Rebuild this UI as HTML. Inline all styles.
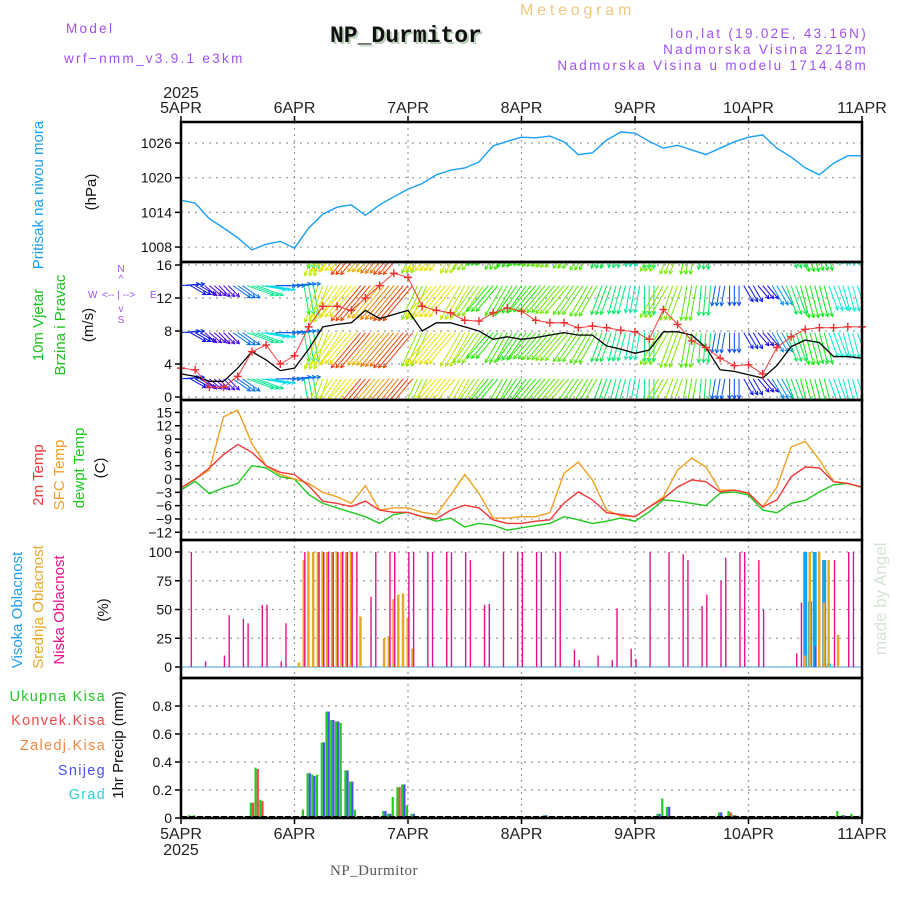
<!DOCTYPE html>
<html><head><meta charset="utf-8"><style>
body{margin:0;background:#fff}
svg{display:block;font-family:"Liberation Sans",sans-serif}
</style></head><body>
<svg id="c" width="900" height="900" viewBox="0 0 900 900">
<defs>
<clipPath id="cp2"><rect x="181" y="263" width="681" height="136"/></clipPath>
</defs>
<g font-size="13.5" fill="#a050f0" letter-spacing="2.3">
<text x="66" y="33">Model</text>
<text x="64" y="63">wrf−nmm_v3.9.1 e3km</text>
<text x="868" y="38" text-anchor="end">lon,lat (19.02E, 43.16N)</text>
<text x="868" y="54" text-anchor="end">Nadmorska Visina 2212m</text>
<text x="868" y="70" text-anchor="end">Nadmorska Visina u modelu 1714.48m</text>
</g>
<text x="520" y="15" font-size="16" fill="#f0c880" letter-spacing="3.8">Meteogram</text>
<text x="332" y="44" font-family="Liberation Mono,monospace" font-weight="bold" font-size="23" fill="#b8d0b8">NP_Durmitor</text>
<text x="330" y="42" font-family="Liberation Mono,monospace" font-weight="bold" font-size="23" fill="#111">NP_Durmitor</text>
<text x="330" y="875" font-family="Liberation Serif,serif" font-size="15" fill="#555" letter-spacing="0.5">NP_Durmitor</text>
<text transform="translate(886,655) rotate(-90)" font-size="17" fill="#d8e4d8">made by Angel</text>

<g id="grid"></g>
<g id="marks"></g>
<g id="frames"></g>
<g id="labels" font-size="14"></g>
</svg>
<script>
// ---- data ----
const days = ["5APR","6APR","7APR","8APR","9APR","10APR","11APR"];
const pressure = [1016.1,1015.6,1012.9,1011.3,1009.6,1007.5,1008.5,1009,1007.8,1011.3,1013.7,1014.9,1015.3,1013.5,1015.3,1016.7,1018,1019,1020.5,1021.3,1021.7,1022.7,1025.5,1026.3,1027,1026.9,1027.2,1026.2,1024,1024.3,1026.5,1027.9,1027.7,1026.3,1025.1,1025.6,1024.8,1024,1025.1,1026.2,1027,1027.4,1025.1,1023.6,1021.7,1020.5,1022.5,1023.8,1023.8];
const windSpeed = [2.8,2.5,1.9,1.9,3.5,5.5,4.5,3.2,3.5,5.8,8.5,8.8,9,10.5,9.5,10,10.5,8,9,9,8.5,8,7,7.3,7,7.2,7.5,7.8,7.5,7.5,6.2,5.8,5.3,5.7,7.9,7.9,7.5,6,3.3,3.1,2.7,2.3,3.8,6.1,6.9,6.6,4.9,4.9,4.7];
const windGust = [3.5,3.3,1.2,1.2,2.5,5.5,6.3,4,5,8.5,11,11,10.5,12,13.5,15,14.5,11,10.5,10.2,9.3,9.2,10.2,10.8,10.4,9.3,9,9,8.4,8.6,8.4,8.1,7.9,7,10.6,8.8,6.8,6,4.7,3.8,3.9,2.8,6,7.3,8.2,8.4,8.4,8.5,8.5];
const windDir = [265,300,310,315,305,290,280,270,265,350,20,35,40,40,40,40,40,25,40,40,30,35,40,30,35,40,40,40,35,30,20,15,10,0,30,20,10,5,10,0,330,320,330,340,345,345,340,345,340];
const temp2m = [-2,0,2.5,5.5,7.8,6,3,1.5,1,-1.5,-5,-5.5,-6.2,-5,-7,-7.5,-7.5,-8.5,-9,-7,-5.9,-6.5,-9.2,-10,-10,-9.5,-9.2,-5.4,-2.9,-4.7,-7.6,-8,-8.5,-6.3,-4.4,-1.8,-0.2,-0.6,-2.9,-2.5,-3.2,-6.3,-4.7,0.5,2.7,2.5,-0.6,-1,-1.8];
const tempSfc = [-2,0,2,14,15.5,8,3,1,0,-1,-3,-4,-5.5,-1.5,-7,-6.5,-6.5,-7.5,-8,-3.6,1,-3.2,-8.8,-8.8,-8.5,-8.5,-7.6,1.3,3.8,-0.2,-7,-8.3,-8.5,-6.3,-4,2,4.7,2.7,-2.5,-2.5,-3.2,-6.3,-1.8,7.2,8.5,4.3,-0.6,-1,-1.8];
const dewpt = [-2.5,-0.5,-3.3,-2,-1,3,2.5,0.5,0,-3.5,-5.5,-6.5,-7.5,-8.5,-10,-8,-7.5,-8.5,-9.5,-8.8,-10.8,-10,-10.4,-11.5,-11,-10.5,-10,-8.5,-9.2,-10,-9.5,-8.8,-9.5,-7.4,-4.7,-5,-5.5,-6,-3.2,-2.9,-3.6,-7,-7.6,-5.5,-4.8,-2.9,-1.3,-1,-1.9];
const lowHours = [2,5,9,10,13,14,17,18,21,22,26,29,30,31,32,33,34,35,36,37,40,41,44,45,48,49,52,53,56,57,60,61,64,65,68,71,72,75,76,79,80,83,84,88,91,92,95,96,99,103,106,107,110,111,114,115,118,119,122,123,130,131,134,138,141,142];
const lowVals = [100,5,10,45,42,38,54,54,5,38,100,100,100,100,100,100,100,100,100,100,61,100,100,100,100,100,100,100,100,100,100,93,54,55,100,100,100,100,100,100,100,15,6,10,6,51,16,7,100,100,98,93,53,63,75,95,100,100,93,50,12,56,18,93,100,100];
const midHours = [25,26,27,28,29,30,31,32,33,34,35,36,38,43,44,45,46,47,48,49,132,133,135,136,137,139];
const midVals = [4,93,100,100,100,100,100,100,100,100,100,100,44,25,27,59,63,64,43,16,10,100,100,56,93,28];
const highHours = [132,133,134,136,137];
const highVals = [100,57,100,93,3];
const precipHours = [2,3,15,16,17,19,26,27,28,29,30,31,32,33,34,35,36,37,41,43,44,45,46,47,48,49,75,76,77,101,102,103,114,116,117,139,140,142,143,144];
const precipTotal = [0.02,0.02,0.11,0.36,0.13,0.01,0.06,0.32,0.31,0.31,0.54,0.76,0.70,0.69,0.68,0.34,0.26,0.06,0.01,0.05,0.03,0.15,0.22,0.24,0.09,0.03,0.01,0.01,0.02,0.03,0.14,0.08,0.04,0.05,0.02,0.05,0.02,0.03,0.01,0.02];
const precipConv = [0,0,0.11,0.35,0.12,0,0,0,0,0,0,0,0,0,0,0,0,0,0,0.05,0.03,0,0.22,0.2,0,0,0,0,0,0,0,0,0,0.04,0.02,0,0,0,0,0];
const precipSnow = [0,0,0,0,0,0,0,0.32,0.30,0,0.54,0.76,0.70,0.69,0,0.34,0.26,0,0,0.05,0.03,0,0,0.24,0,0.03,0,0,0.02,0.03,0,0.08,0.04,0,0,0,0.02,0,0.01,0];
const p1Ticks = [1008,1014,1020,1026];
const p2Ticks = [0,4,8,12,16];
const p3Ticks = [-12,-9,-6,-3,0,3,6,9,12,15];
const p4Ticks = [0,25,50,75,100];
const p5Ticks = [0,0.2,0.4,0.6,0.8];

// ---- scales ----
const X0=181, X1=862;
const xh = h => X0 + h*(X1-X0)/144;
const y1 = v => 143 + (1026-v)*5.78;
const y2 = v => 397 - v*8.25;
const y3 = v => 479 - v*4.44;
const y4 = v => 667 - v*1.15;
const y5 = v => 818 - v*140;
const NS="http://www.w3.org/2000/svg";
function mk(tag, attrs, parent){const e=document.createElementNS(NS,tag);for(const k in attrs)e.setAttribute(k,attrs[k]);parent.appendChild(e);return e;}
const grid=document.getElementById('grid'), marks=document.getElementById('marks'), frames=document.getElementById('frames'), labels=document.getElementById('labels');
const panels=[[122,262,y1,p1Ticks,v=>v],[262,400,y2,p2Ticks,v=>v],[400,540,y3,p3Ticks,v=>v<0?"−"+(-v):v],[540,678,y4,p4Ticks,v=>v],[678,818,y5,p5Ticks,v=>v===0?"0":v.toFixed(1)]];
panels.forEach((p,pi)=>{
  const [t,b,ys,ticks,fmt]=p;
  ticks.forEach(v=>{
    const y=ys(v);
    const g=mk('line',{x1:X0,x2:X1,y1:y,y2:y,stroke:'#999','stroke-width':1.2,'stroke-dasharray':'2,5'},grid);
    
    
    mk('line',{x1:X0-6,x2:X0,y1:y,y2:y,stroke:'#000','stroke-width':1.5},frames);
    const tx=mk('text',{x:X0-9,y:y+5,'text-anchor':'end','font-size':14,fill:'#111'},labels);
    tx.textContent=fmt(v);
    
    
  });
  for(let d=1;d<6;d++){
    const g=mk('line',{x1:xh(d*24),x2:xh(d*24),y1:t,y2:b,stroke:'#999','stroke-width':1.2,'stroke-dasharray':'2,4'},grid);
    
    
  }
  const r=mk('rect',{x:X0,y:t,width:X1-X0,height:b-t,fill:'none',stroke:'#000','stroke-width':2.5},frames);
  
  
});
days.forEach((d,i)=>{
  const x=xh(i*24);
  mk('line',{x1:x,x2:x,y1:116,y2:122,stroke:'#000','stroke-width':1.5},frames);
  mk('line',{x1:x,x2:x,y1:818,y2:824,stroke:'#000','stroke-width':1.5},frames);
  const t1=mk('text',{x:x,y:113,'text-anchor':'middle','font-size':16,fill:'#222'},labels);
  t1.textContent=d;
  
  
  const t2=mk('text',{x:x,y:839,'text-anchor':'middle','font-size':16,fill:'#222'},labels);
  t2.textContent=d;
  
  
});
const yr1=mk('text',{x:181,y:98,'text-anchor':'middle','font-size':16,fill:'#222'},labels);yr1.textContent="2025";


const yr2=mk('text',{x:181,y:855,'text-anchor':'middle','font-size':16,fill:'#222'},labels);yr2.textContent="2025";



function line(arr, ys, color, name, w){
  const pts=arr.map((v,i)=>xh(i*3).toFixed(1)+","+ys(v).toFixed(1)).join(" ");
  const l=mk('polyline',{points:pts,fill:'none',stroke:color,'stroke-width':w||1.3},marks);
  
  
  return l;
}
// panel 1
line(pressure,y1,'#1aa0f5','pressure-line',1.4);
// panel 2 wind arrows
const wg=mk('g',{'clip-path':'url(#cp2)'},marks);


[2.2,7.8,13.5,19.1].forEach(base=>{
  for(let h=0;h<=144;h++){
    const i=Math.min(48,Math.round(h/3));
    const s=windSpeed[i], d=windDir[i]*Math.PI/180;
    const L=3.5*s+9, dx=-Math.sin(d), dy=Math.cos(d);
    const x0=xh(h), y0=y2(base), x1=x0+dx*L, y1e=y0+dy*L;
    const col='hsl('+Math.max(10,Math.min(285,310-28*s))+',95%,47%)';
    const a=Math.atan2(dy,dx);
    const hx1=x1-4*Math.cos(a-0.5), hy1=y1e-4*Math.sin(a-0.5), hx2=x1-4*Math.cos(a+0.5), hy2=y1e-4*Math.sin(a+0.5);
    const p=mk('path',{d:`M${x0},${y0}L${x1},${y1e}M${hx1},${hy1}L${x1},${y1e}L${hx2},${hy2}`,stroke:col,'stroke-width':1,fill:'none'},wg);
    
    
  }
});
line(windSpeed,y2,'#000','wind-speed-line',1.3);
line(windGust,y2,'#f04040','wind-gust-line',1);
windGust.forEach((v,i)=>{
  const x=xh(i*3), y=y2(v);
  const c=mk('path',{d:`M${x-4},${y}h8M${x},${y-4}v8`,stroke:'#f03030','stroke-width':1.4},marks);
  
  
});
// panel 3
line(dewpt,y3,'#20c820','dewpoint-line',1.4);
line(tempSfc,y3,'#f0a020','sfc-temp-line',1.4);
line(temp2m,y3,'#f03838','temp-2m-line',1.4);
// panel 4
mk('line',{x1:X0,x2:X1,y1:667,y2:667,stroke:'#6ab8e8','stroke-width':1.2},marks);
function bars(hours,vals,ys,off,w,color,name,base){
  hours.forEach((h,i)=>{
    if(!vals[i])return;
    const y=ys(vals[i]);
    const r=mk('rect',{x:xh(h)+off,y:y,width:w,height:base-y,fill:color},marks);
    
    
  });
}
bars(highHours,highVals,y4,-2,4,'#12a4f0','high-cloud-bar',667);
bars(midHours,midVals,y4,-1.5,2.5,'#e8a828','mid-cloud-bar',667);
bars(lowHours,lowVals,y4,0.2,1.4,'#e8108a','low-cloud-bar',667);
// panel 5
bars(precipHours,precipTotal,y5,-2.2,2.2,'#22cc22','precip-total-bar',818);
bars(precipHours,precipConv,y5,0,2.2,'#f04848','precip-conv-bar',818);
bars(precipHours,precipSnow,y5,0,2.2,'#4a50f0','precip-snow-bar',818);
mk('line',{x1:X0,x2:X1,y1:817,y2:817,stroke:'#000','stroke-width':2,'stroke-dasharray':'6,2'},marks);
</script>
<svg width="900" height="900" style="position:absolute;left:0;top:0;pointer-events:none" font-family="Liberation Sans,sans-serif">
<g font-size="15">
<text transform="translate(43,195) rotate(-90)" text-anchor="middle" fill="#1aa0f5">Pritisak na nivou mora</text>
<text transform="translate(96,192) rotate(-90)" text-anchor="middle" fill="#111">(hPa)</text>
<text transform="translate(43,325) rotate(-90)" text-anchor="middle" fill="#20c020">10m Vjetar</text>
<text transform="translate(65,325) rotate(-90)" text-anchor="middle" fill="#20c020">Brzina i Pravac</text>
<text transform="translate(93,325) rotate(-90)" text-anchor="middle" fill="#111">(m/s)</text>
<text transform="translate(43,475) rotate(-90)" text-anchor="middle" fill="#f03838">2m Temp</text>
<text transform="translate(64,475) rotate(-90)" text-anchor="middle" fill="#f0a020">SFC Temp</text>
<text transform="translate(84,468) rotate(-90)" text-anchor="middle" fill="#20c820">dewpt Temp</text>
<text transform="translate(105,468) rotate(-90)" text-anchor="middle" fill="#111">(C)</text>
<text transform="translate(22,610) rotate(-90)" text-anchor="middle" fill="#20a0f0">Visoka Oblacnost</text>
<text transform="translate(43,607) rotate(-90)" text-anchor="middle" fill="#e8a828">Srednja Oblacnost</text>
<text transform="translate(64,610) rotate(-90)" text-anchor="middle" fill="#f0108a">Niska Oblacnost</text>
<text transform="translate(108,610) rotate(-90)" text-anchor="middle" fill="#111">(%)</text>
<text transform="translate(123,745) rotate(-90)" text-anchor="middle" fill="#111">1hr Precip (mm)</text>
</g>
<g font-size="14.5" text-anchor="end" letter-spacing="1.3">
<text x="106" y="701" fill="#20c820">Ukupna  Kisa</text>
<text x="106" y="725" fill="#f04848">Konvek.Kisa</text>
<text x="106" y="750" fill="#f08840">Zaledj.Kisa</text>
<text x="106" y="775" fill="#4a50f0">Snijeg</text>
<text x="106" y="799" fill="#30d0d0">Grad</text>
</g>
<g fill="#a050f0" font-size="10">
<text x="121" y="272" text-anchor="middle">N</text>
<text x="121" y="282" text-anchor="middle">^</text>
<text x="88" y="298">W</text>
<text x="102" y="298">&lt;-- | --&gt;</text>
<text x="150" y="298">E</text>
<text x="121" y="312" text-anchor="middle">v</text>
<text x="121" y="323" text-anchor="middle">S</text>
</g>
</svg>
</body></html>
